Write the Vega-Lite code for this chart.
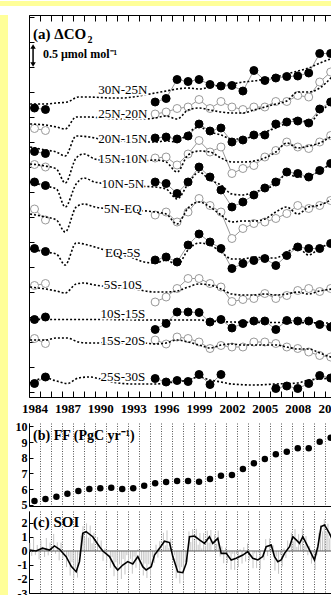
{
"$schema":"https://vega.github.io/schema/vega-lite/v6.json",
"background":"white",
"padding":0,
"spacing":0,
"config":{
 "view":{"stroke":null},
 "axis":{"title":null,"labelFont":"Liberation Serif","labelFontWeight":"bold","labelFontSize":12,"labelColor":"black","domainColor":"black","domainWidth":1,"tickColor":"black","tickWidth":1,"grid":false,"labelFlush":false,"labelOverlap":false,"labelBound":false}
},
"datasets":{
"lines":[
{"r":1,"t":1983.6,"v":5.76},{"r":1,"t":1985,"v":5.76},{"r":1,"t":1986,"v":5.78},{"r":1,"t":1987,"v":5.80},{"r":1,"t":1988,"v":5.90},{"r":1,"t":1989,"v":5.90},{"r":1,"t":1990,"v":5.89},{"r":1,"t":1991,"v":5.88},{"r":1,"t":1992,"v":5.88},{"r":1,"t":1993,"v":5.90},{"r":1,"t":1994,"v":5.94},{"r":1,"t":1995,"v":5.98},{"r":1,"t":1996,"v":6.02},{"r":1,"t":1997,"v":6.06},{"r":1,"t":1998,"v":6.08},{"r":1,"t":1999,"v":6.06},{"r":1,"t":2000,"v":6.10},{"r":1,"t":2001,"v":6.14},{"r":1,"t":2002,"v":6.16},{"r":1,"t":2003,"v":6.20},{"r":1,"t":2004,"v":6.22},{"r":1,"t":2005,"v":6.26},{"r":1,"t":2006,"v":6.30},{"r":1,"t":2007,"v":6.36},{"r":1,"t":2008,"v":6.42},{"r":1,"t":2009,"v":6.48},{"r":1,"t":2010,"v":6.58},{"r":1,"t":2011.1,"v":6.67},
{"r":2,"t":1983.6,"v":5.36},{"r":2,"t":1985,"v":5.34},{"r":2,"t":1986,"v":5.30},{"r":2,"t":1986.8,"v":5.26},{"r":2,"t":1987.8,"v":5.50},{"r":2,"t":1989,"v":5.50},{"r":2,"t":1990,"v":5.48},{"r":2,"t":1991,"v":5.46},{"r":2,"t":1992,"v":5.46},{"r":2,"t":1993,"v":5.46},{"r":2,"t":1994,"v":5.46},{"r":2,"t":1995,"v":5.48},{"r":2,"t":1996,"v":5.52},{"r":2,"t":1997,"v":5.46},{"r":2,"t":1998,"v":5.64},{"r":2,"t":1999,"v":5.68},{"r":2,"t":2000,"v":5.64},{"r":2,"t":2001,"v":5.60},{"r":2,"t":2002,"v":5.58},{"r":2,"t":2003,"v":5.58},{"r":2,"t":2004,"v":5.64},{"r":2,"t":2005,"v":5.70},{"r":2,"t":2006,"v":5.76},{"r":2,"t":2007,"v":5.82},{"r":2,"t":2008,"v":6.00},{"r":2,"t":2009,"v":6.00},{"r":2,"t":2010,"v":6.08},{"r":2,"t":2011.1,"v":6.30},
{"r":3,"t":1983.6,"v":4.90},{"r":3,"t":1985,"v":4.84},{"r":3,"t":1986,"v":4.80},{"r":3,"t":1986.8,"v":4.72},{"r":3,"t":1987.8,"v":5.12},{"r":3,"t":1989,"v":5.10},{"r":3,"t":1990,"v":5.06},{"r":3,"t":1991,"v":5.04},{"r":3,"t":1992,"v":5.02},{"r":3,"t":1993,"v":5.00},{"r":3,"t":1994,"v":5.00},{"r":3,"t":1995,"v":5.00},{"r":3,"t":1996,"v":5.02},{"r":3,"t":1997,"v":5.00},{"r":3,"t":1998,"v":5.18},{"r":3,"t":1999,"v":5.30},{"r":3,"t":2000,"v":5.20},{"r":3,"t":2001,"v":5.14},{"r":3,"t":2002,"v":5.06},{"r":3,"t":2003,"v":5.06},{"r":3,"t":2004,"v":5.12},{"r":3,"t":2005,"v":5.20},{"r":3,"t":2006,"v":5.28},{"r":3,"t":2007,"v":5.38},{"r":3,"t":2008,"v":5.48},{"r":3,"t":2009,"v":5.38},{"r":3,"t":2010,"v":5.60},{"r":3,"t":2011.1,"v":5.78},
{"r":4,"t":1983.6,"v":4.56},{"r":4,"t":1985,"v":4.52},{"r":4,"t":1986,"v":4.46},{"r":4,"t":1986.8,"v":4.18},{"r":4,"t":1987.8,"v":4.68},{"r":4,"t":1988.5,"v":4.76},{"r":4,"t":1989.5,"v":4.66},{"r":4,"t":1991,"v":4.62},{"r":4,"t":1993,"v":4.60},{"r":4,"t":1995,"v":4.64},{"r":4,"t":1996,"v":4.60},{"r":4,"t":1997,"v":4.40},{"r":4,"t":1998,"v":4.74},{"r":4,"t":1999,"v":4.82},{"r":4,"t":2000,"v":4.80},{"r":4,"t":2001,"v":4.68},{"r":4,"t":2002,"v":4.60},{"r":4,"t":2003,"v":4.60},{"r":4,"t":2004,"v":4.62},{"r":4,"t":2005,"v":4.68},{"r":4,"t":2006,"v":4.80},{"r":4,"t":2007,"v":4.98},{"r":4,"t":2008,"v":4.88},{"r":4,"t":2009,"v":4.92},{"r":4,"t":2010,"v":4.98},{"r":4,"t":2011.1,"v":5.12},
{"r":5,"t":1983.6,"v":4.20},{"r":5,"t":1985,"v":4.12},{"r":5,"t":1986,"v":4.06},{"r":5,"t":1986.8,"v":3.70},{"r":5,"t":1987.8,"v":4.16},{"r":5,"t":1988.5,"v":4.28},{"r":5,"t":1989.5,"v":4.20},{"r":5,"t":1991,"v":4.16},{"r":5,"t":1993,"v":4.12},{"r":5,"t":1995,"v":4.10},{"r":5,"t":1996,"v":4.06},{"r":5,"t":1997,"v":3.86},{"r":5,"t":1998,"v":4.16},{"r":5,"t":1999,"v":4.40},{"r":5,"t":2000,"v":4.24},{"r":5,"t":2001,"v":4.14},{"r":5,"t":2002,"v":3.96},{"r":5,"t":2003,"v":3.94},{"r":5,"t":2004,"v":4.00},{"r":5,"t":2005,"v":4.06},{"r":5,"t":2006,"v":4.16},{"r":5,"t":2007,"v":4.36},{"r":5,"t":2008,"v":4.30},{"r":5,"t":2009,"v":4.32},{"r":5,"t":2010,"v":4.42},{"r":5,"t":2011.1,"v":4.58},
{"r":6,"t":1983.6,"v":3.56},{"r":6,"t":1985,"v":3.50},{"r":6,"t":1986,"v":3.44},{"r":6,"t":1986.8,"v":3.20},{"r":6,"t":1987.8,"v":3.70},{"r":6,"t":1988.5,"v":3.76},{"r":6,"t":1989.5,"v":3.70},{"r":6,"t":1991,"v":3.66},{"r":6,"t":1993,"v":3.64},{"r":6,"t":1995,"v":3.60},{"r":6,"t":1996,"v":3.56},{"r":6,"t":1997,"v":3.36},{"r":6,"t":1998,"v":3.68},{"r":6,"t":1999,"v":3.80},{"r":6,"t":2000,"v":3.70},{"r":6,"t":2001,"v":3.54},{"r":6,"t":2002,"v":3.40},{"r":6,"t":2003,"v":3.42},{"r":6,"t":2004,"v":3.42},{"r":6,"t":2005,"v":3.46},{"r":6,"t":2006,"v":3.60},{"r":6,"t":2007,"v":3.70},{"r":6,"t":2008,"v":3.56},{"r":6,"t":2009,"v":3.70},{"r":6,"t":2010,"v":3.74},{"r":6,"t":2011.1,"v":3.85},
{"r":7,"t":1983.6,"v":2.86},{"r":7,"t":1985,"v":2.80},{"r":7,"t":1986,"v":2.76},{"r":7,"t":1986.8,"v":2.54},{"r":7,"t":1987.8,"v":2.98},{"r":7,"t":1988.5,"v":2.96},{"r":7,"t":1989.5,"v":2.90},{"r":7,"t":1991,"v":2.80},{"r":7,"t":1993,"v":2.68},{"r":7,"t":1994,"v":2.60},{"r":7,"t":1995,"v":2.58},{"r":7,"t":1996,"v":2.64},{"r":7,"t":1997,"v":2.54},{"r":7,"t":1998,"v":2.84},{"r":7,"t":1999,"v":2.98},{"r":7,"t":2000,"v":2.94},{"r":7,"t":2001,"v":2.80},{"r":7,"t":2002,"v":2.66},{"r":7,"t":2003,"v":2.66},{"r":7,"t":2004,"v":2.70},{"r":7,"t":2005,"v":2.68},{"r":7,"t":2006,"v":2.68},{"r":7,"t":2007,"v":2.80},{"r":7,"t":2008,"v":2.88},{"r":7,"t":2009,"v":2.74},{"r":7,"t":2010,"v":2.88},{"r":7,"t":2011.1,"v":2.97},
{"r":8,"t":1983.6,"v":2.10},{"r":8,"t":1985,"v":2.06},{"r":8,"t":1986,"v":2.02},{"r":8,"t":1986.8,"v":1.98},{"r":8,"t":1987.8,"v":2.16},{"r":8,"t":1988.5,"v":2.18},{"r":8,"t":1989.5,"v":2.14},{"r":8,"t":1991,"v":2.10},{"r":8,"t":1993,"v":2.06},{"r":8,"t":1995,"v":2.00},{"r":8,"t":1996,"v":2.00},{"r":8,"t":1997,"v":2.02},{"r":8,"t":1998,"v":2.10},{"r":8,"t":1999,"v":2.16},{"r":8,"t":2000,"v":2.14},{"r":8,"t":2001,"v":2.06},{"r":8,"t":2002,"v":1.96},{"r":8,"t":2003,"v":1.94},{"r":8,"t":2004,"v":1.94},{"r":8,"t":2005,"v":1.96},{"r":8,"t":2006,"v":1.94},{"r":8,"t":2007,"v":1.96},{"r":8,"t":2008,"v":2.00},{"r":8,"t":2009,"v":1.96},{"r":8,"t":2010,"v":2.02},{"r":8,"t":2011.1,"v":2.06},
{"r":9,"t":1983.6,"v":1.45},{"r":9,"t":1990,"v":1.45},{"r":9,"t":1995,"v":1.44},{"r":9,"t":1999,"v":1.44},{"r":9,"t":2000,"v":1.42},{"r":9,"t":2002,"v":1.40},{"r":9,"t":2006,"v":1.39},{"r":9,"t":2011.1,"v":1.38},
{"r":10,"t":1983.6,"v":1.04},{"r":10,"t":1985,"v":1.04},{"r":10,"t":1986,"v":1.08},{"r":10,"t":1987,"v":1.08},{"r":10,"t":1988,"v":1.00},{"r":10,"t":1989,"v":0.98},{"r":10,"t":1990,"v":0.98},{"r":10,"t":1992,"v":0.98},{"r":10,"t":1994,"v":0.98},{"r":10,"t":1995,"v":0.96},{"r":10,"t":1996,"v":0.98},{"r":10,"t":1997,"v":1.04},{"r":10,"t":1998,"v":1.00},{"r":10,"t":1999,"v":0.94},{"r":10,"t":2000,"v":0.88},{"r":10,"t":2001,"v":0.94},{"r":10,"t":2002,"v":0.96},{"r":10,"t":2003,"v":0.94},{"r":10,"t":2004,"v":0.94},{"r":10,"t":2005,"v":0.94},{"r":10,"t":2006,"v":0.94},{"r":10,"t":2007,"v":0.90},{"r":10,"t":2008,"v":0.86},{"r":10,"t":2009,"v":0.86},{"r":10,"t":2010,"v":0.78},{"r":10,"t":2011.1,"v":0.69},
{"r":11,"t":1983.6,"v":0.18},{"r":11,"t":1985,"v":0.28},{"r":11,"t":1986,"v":0.22},{"r":11,"t":1987,"v":0.17},{"r":11,"t":1988,"v":0.28},{"r":11,"t":1989,"v":0.30},{"r":11,"t":1990,"v":0.26},{"r":11,"t":1991,"v":0.20},{"r":11,"t":1993,"v":0.16},{"r":11,"t":1995,"v":0.16},{"r":11,"t":1996,"v":0.18},{"r":11,"t":1998,"v":0.24},{"r":11,"t":1999,"v":0.30},{"r":11,"t":2000,"v":0.24},{"r":11,"t":2001,"v":0.20},{"r":11,"t":2002,"v":0.16},{"r":11,"t":2004,"v":0.14},{"r":11,"t":2006,"v":0.16},{"r":11,"t":2008,"v":0.18},{"r":11,"t":2009,"v":0.24},{"r":11,"t":2010,"v":0.26},{"r":11,"t":2011.1,"v":0.28}
],
"obs":[
{"r":1,"g":1,"t":1984,"v":5.68},{"r":1,"g":1,"t":1985,"v":5.65},{"r":1,"g":2,"t":1995,"v":5.80},{"r":1,"g":2,"t":1996,"v":5.87},{"r":1,"g":2,"t":1997,"v":6.25},{"r":1,"g":2,"t":1998,"v":6.21},{"r":1,"g":2,"t":1999,"v":6.25},{"r":1,"g":2,"t":2000,"v":6.15},{"r":1,"g":2,"t":2001,"v":6.12},{"r":1,"g":2,"t":2002,"v":6.13},{"r":1,"g":2,"t":2003,"v":6.02},{"r":1,"g":2,"t":2004,"v":6.43},{"r":1,"g":2,"t":2005,"v":6.23},{"r":1,"g":2,"t":2006,"v":6.28},{"r":1,"g":2,"t":2007,"v":6.31},{"r":1,"g":2,"t":2008,"v":6.32},{"r":1,"g":2,"t":2009,"v":6.38},{"r":1,"g":2,"t":2010,"v":6.77},{"r":1,"g":2,"t":2011,"v":6.77},
{"r":2,"g":1,"t":1984,"v":5.27},{"r":2,"g":1,"t":1985,"v":5.23},{"r":2,"g":2,"t":1995,"v":5.56},{"r":2,"g":2,"t":1996,"v":5.60},{"r":2,"g":2,"t":1997,"v":5.67},{"r":2,"g":2,"t":1998,"v":5.70},{"r":2,"g":2,"t":1999,"v":5.85},{"r":2,"g":2,"t":2000,"v":5.67},{"r":2,"g":2,"t":2001,"v":5.81},{"r":2,"g":2,"t":2002,"v":5.70},{"r":2,"g":2,"t":2003,"v":5.65},{"r":2,"g":2,"t":2004,"v":5.70},{"r":2,"g":2,"t":2005,"v":5.70},{"r":2,"g":2,"t":2006,"v":5.81},{"r":2,"g":2,"t":2007,"v":5.81},{"r":2,"g":2,"t":2008,"v":5.93},{"r":2,"g":2,"t":2009,"v":5.90},{"r":2,"g":2,"t":2010,"v":6.20},{"r":2,"g":2,"t":2011,"v":6.40},
{"r":3,"g":1,"t":1984,"v":4.81},{"r":3,"g":1,"t":1985,"v":4.77},{"r":3,"g":2,"t":1995,"v":5.08},{"r":3,"g":2,"t":1996,"v":5.10},{"r":3,"g":2,"t":1997,"v":5.06},{"r":3,"g":2,"t":1998,"v":5.12},{"r":3,"g":2,"t":1999,"v":5.36},{"r":3,"g":2,"t":2000,"v":5.22},{"r":3,"g":2,"t":2001,"v":5.28},{"r":3,"g":2,"t":2002,"v":5.00},{"r":3,"g":2,"t":2003,"v":5.04},{"r":3,"g":2,"t":2004,"v":5.14},{"r":3,"g":2,"t":2005,"v":5.14},{"r":3,"g":2,"t":2006,"v":5.36},{"r":3,"g":2,"t":2007,"v":5.40},{"r":3,"g":2,"t":2008,"v":5.42},{"r":3,"g":2,"t":2009,"v":5.38},{"r":3,"g":2,"t":2010,"v":5.66},{"r":3,"g":2,"t":2011,"v":5.80},
{"r":4,"g":1,"t":1984,"v":4.55},{"r":4,"g":1,"t":1985,"v":4.50},{"r":4,"g":2,"t":1995,"v":4.68},{"r":4,"g":2,"t":1996,"v":4.70},{"r":4,"g":2,"t":1997,"v":4.54},{"r":4,"g":2,"t":1998,"v":4.76},{"r":4,"g":2,"t":1999,"v":5.03},{"r":4,"g":2,"t":2000,"v":4.80},{"r":4,"g":2,"t":2001,"v":4.90},{"r":4,"g":2,"t":2002,"v":4.37},{"r":4,"g":2,"t":2003,"v":4.47},{"r":4,"g":2,"t":2004,"v":4.53},{"r":4,"g":2,"t":2005,"v":4.70},{"r":4,"g":2,"t":2006,"v":4.83},{"r":4,"g":2,"t":2007,"v":5.00},{"r":4,"g":2,"t":2008,"v":4.90},{"r":4,"g":2,"t":2009,"v":4.87},{"r":4,"g":2,"t":2010,"v":5.00},{"r":4,"g":2,"t":2011,"v":5.13},
{"r":5,"g":1,"t":1984,"v":4.20},{"r":5,"g":1,"t":1985,"v":4.13},{"r":5,"g":2,"t":1995,"v":4.20},{"r":5,"g":2,"t":1996,"v":4.17},{"r":5,"g":2,"t":1997,"v":3.97},{"r":5,"g":2,"t":1998,"v":4.20},{"r":5,"g":2,"t":1999,"v":4.50},{"r":5,"g":2,"t":2000,"v":4.30},{"r":5,"g":2,"t":2001,"v":4.04},{"r":5,"g":2,"t":2002,"v":3.70},{"r":5,"g":2,"t":2003,"v":3.80},{"r":5,"g":2,"t":2004,"v":3.94},{"r":5,"g":2,"t":2005,"v":4.08},{"r":5,"g":2,"t":2006,"v":4.20},{"r":5,"g":2,"t":2007,"v":4.40},{"r":5,"g":2,"t":2008,"v":4.37},{"r":5,"g":2,"t":2009,"v":4.30},{"r":5,"g":2,"t":2010,"v":4.43},{"r":5,"g":2,"t":2011,"v":4.57},
{"r":6,"g":1,"t":1984,"v":3.66},{"r":6,"g":1,"t":1985,"v":3.44},{"r":6,"g":2,"t":1995,"v":3.54},{"r":6,"g":2,"t":1996,"v":3.60},{"r":6,"g":2,"t":1997,"v":3.40},{"r":6,"g":2,"t":1998,"v":3.60},{"r":6,"g":2,"t":1999,"v":3.87},{"r":6,"g":2,"t":2000,"v":3.73},{"r":6,"g":2,"t":2001,"v":3.60},{"r":6,"g":2,"t":2002,"v":3.07},{"r":6,"g":2,"t":2003,"v":3.27},{"r":6,"g":2,"t":2004,"v":3.37},{"r":6,"g":2,"t":2005,"v":3.40},{"r":6,"g":2,"t":2006,"v":3.47},{"r":6,"g":2,"t":2007,"v":3.57},{"r":6,"g":2,"t":2008,"v":3.73},{"r":6,"g":2,"t":2009,"v":3.67},{"r":6,"g":2,"t":2010,"v":3.73},{"r":6,"g":2,"t":2011,"v":3.83},
{"r":7,"g":1,"t":1984,"v":2.87},{"r":7,"g":1,"t":1985,"v":2.81},{"r":7,"g":2,"t":1995,"v":2.64},{"r":7,"g":2,"t":1996,"v":2.70},{"r":7,"g":2,"t":1997,"v":2.60},{"r":7,"g":2,"t":1998,"v":2.94},{"r":7,"g":2,"t":1999,"v":3.16},{"r":7,"g":2,"t":2000,"v":3.00},{"r":7,"g":2,"t":2001,"v":2.87},{"r":7,"g":2,"t":2002,"v":2.47},{"r":7,"g":2,"t":2003,"v":2.57},{"r":7,"g":2,"t":2004,"v":2.63},{"r":7,"g":2,"t":2005,"v":2.67},{"r":7,"g":2,"t":2006,"v":2.53},{"r":7,"g":2,"t":2007,"v":2.73},{"r":7,"g":2,"t":2008,"v":2.90},{"r":7,"g":2,"t":2009,"v":2.87},{"r":7,"g":2,"t":2010,"v":2.87},{"r":7,"g":2,"t":2011,"v":2.97},
{"r":8,"g":1,"t":1984,"v":2.13},{"r":8,"g":1,"t":1985,"v":2.17},{"r":8,"g":2,"t":1995,"v":1.80},{"r":8,"g":2,"t":1996,"v":1.90},{"r":8,"g":2,"t":1997,"v":2.07},{"r":8,"g":2,"t":1998,"v":2.27},{"r":8,"g":2,"t":1999,"v":2.27},{"r":8,"g":2,"t":2000,"v":2.17},{"r":8,"g":2,"t":2001,"v":2.10},{"r":8,"g":2,"t":2002,"v":1.81},{"r":8,"g":2,"t":2003,"v":1.85},{"r":8,"g":2,"t":2004,"v":1.87},{"r":8,"g":2,"t":2005,"v":1.97},{"r":8,"g":2,"t":2006,"v":1.87},{"r":8,"g":2,"t":2007,"v":1.93},{"r":8,"g":2,"t":2008,"v":2.03},{"r":8,"g":2,"t":2009,"v":2.07},{"r":8,"g":2,"t":2010,"v":2.01},{"r":8,"g":2,"t":2011,"v":2.07},
{"r":9,"g":1,"t":1984,"v":1.45},{"r":9,"g":1,"t":1985,"v":1.50},{"r":9,"g":2,"t":1995,"v":1.25},{"r":9,"g":2,"t":1996,"v":1.37},{"r":9,"g":2,"t":1997,"v":1.60},{"r":9,"g":2,"t":1998,"v":1.60},{"r":9,"g":2,"t":1999,"v":1.59},{"r":9,"g":2,"t":2000,"v":1.40},{"r":9,"g":2,"t":2001,"v":1.45},{"r":9,"g":2,"t":2002,"v":1.28},{"r":9,"g":2,"t":2003,"v":1.37},{"r":9,"g":2,"t":2004,"v":1.42},{"r":9,"g":2,"t":2005,"v":1.42},{"r":9,"g":2,"t":2006,"v":1.25},{"r":9,"g":2,"t":2007,"v":1.43},{"r":9,"g":2,"t":2008,"v":1.42},{"r":9,"g":2,"t":2009,"v":1.42},{"r":9,"g":2,"t":2010,"v":1.35},{"r":9,"g":2,"t":2011,"v":1.30},
{"r":10,"g":1,"t":1984,"v":1.07},{"r":10,"g":1,"t":1985,"v":0.97},{"r":10,"g":2,"t":1995,"v":1.04},{"r":10,"g":2,"t":1996,"v":0.96},{"r":10,"g":2,"t":1997,"v":1.10},{"r":10,"g":2,"t":1998,"v":1.07},{"r":10,"g":2,"t":1999,"v":1.00},{"r":10,"g":2,"t":2000,"v":0.87},{"r":10,"g":2,"t":2001,"v":0.93},{"r":10,"g":2,"t":2002,"v":0.90},{"r":10,"g":2,"t":2003,"v":0.90},{"r":10,"g":2,"t":2004,"v":1.00},{"r":10,"g":2,"t":2005,"v":1.00},{"r":10,"g":2,"t":2006,"v":0.97},{"r":10,"g":2,"t":2007,"v":0.90},{"r":10,"g":2,"t":2008,"v":0.87},{"r":10,"g":2,"t":2009,"v":0.80},{"r":10,"g":2,"t":2010,"v":0.73},{"r":10,"g":2,"t":2011,"v":0.70},
{"r":11,"g":1,"t":1984,"v":0.17},{"r":11,"g":1,"t":1985,"v":0.30},{"r":11,"g":2,"t":1995,"v":0.27},{"r":11,"g":2,"t":1996,"v":0.20},{"r":11,"g":2,"t":1997,"v":0.23},{"r":11,"g":2,"t":1998,"v":0.21},{"r":11,"g":2,"t":1999,"v":0.35},{"r":11,"g":2,"t":2000,"v":0.15},{"r":11,"g":2,"t":2001,"v":0.35},{"r":11,"g":3,"t":2006,"v":0.07},{"r":11,"g":3,"t":2007,"v":0.12},{"r":11,"g":3,"t":2008,"v":0.07},{"r":11,"g":3,"t":2009,"v":0.17},{"r":11,"g":3,"t":2010,"v":0.33},{"r":11,"g":3,"t":2011,"v":0.28}
],
"labs":[
{"name":"30N-25N","t":1992.05,"v":6.04},{"name":"25N-20N","t":1992.05,"v":5.56},{"name":"20N-15N","t":1992.05,"v":5.06},{"name":"15N-10N","t":1992.05,"v":4.66},{"name":"10N-5N","t":1992.05,"v":4.16},{"name":"5N-EQ","t":1992.05,"v":3.66},{"name":"EQ-5S","t":1992.05,"v":2.78},{"name":"5S-10S","t":1992.05,"v":2.14},{"name":"10S-15S","t":1992.05,"v":1.57},{"name":"15S-20S","t":1992.05,"v":1.03},{"name":"25S-30S","t":1992.05,"v":0.30}
],
"ff":[
{"t":1984,"ff":5.24},{"t":1985,"ff":5.36},{"t":1986,"ff":5.51},{"t":1987,"ff":5.70},{"t":1988,"ff":5.87},{"t":1989,"ff":6.00},{"t":1990,"ff":6.05},{"t":1991,"ff":6.08},{"t":1992,"ff":6.00},{"t":1993,"ff":6.05},{"t":1994,"ff":6.21},{"t":1995,"ff":6.37},{"t":1996,"ff":6.45},{"t":1997,"ff":6.51},{"t":1998,"ff":6.51},{"t":1999,"ff":6.47},{"t":2000,"ff":6.64},{"t":2001,"ff":6.85},{"t":2002,"ff":6.90},{"t":2003,"ff":7.28},{"t":2004,"ff":7.64},{"t":2005,"ff":7.92},{"t":2006,"ff":8.22},{"t":2007,"ff":8.38},{"t":2008,"ff":8.60},{"t":2009,"ff":8.60},{"t":2010,"ff":9.02},{"t":2011,"ff":9.28}
],
"soi":[
{"t":1983.58,"s":0.58},{"t":1983.75,"s":-0.35},{"t":1983.92,"s":0.93},
{"t":1984.08,"s":-0.29},{"t":1984.25,"s":0.43},{"t":1984.42,"s":-0.6},{"t":1984.58,"s":0.76},{"t":1984.75,"s":0.3},{"t":1984.92,"s":-0.43},
{"t":1985.08,"s":0.93},{"t":1985.25,"s":-0.31},{"t":1985.42,"s":0.6},{"t":1985.58,"s":-0.1},{"t":1985.75,"s":1.22},{"t":1985.92,"s":-0.19},
{"t":1986.08,"s":0.62},{"t":1986.25,"s":-0.67},{"t":1986.42,"s":0.6},{"t":1986.58,"s":-0.55},{"t":1986.75,"s":-0.1},{"t":1986.92,"s":-1.15},
{"t":1987.08,"s":-0.4},{"t":1987.25,"s":-1.75},{"t":1987.42,"s":-0.8},{"t":1987.58,"s":-1.95},{"t":1987.75,"s":-1.25},{"t":1987.92,"s":-1.9},
{"t":1988.08,"s":-0.3},{"t":1988.25,"s":1.1},{"t":1988.42,"s":1.77},{"t":1988.58,"s":0.93},{"t":1988.75,"s":1.97},{"t":1988.92,"s":0.95},
{"t":1989.08,"s":1.82},{"t":1989.25,"s":0.55},{"t":1989.42,"s":1.3},{"t":1989.58,"s":0.1},{"t":1989.75,"s":1.0},{"t":1989.92,"s":-0.08},
{"t":1990.08,"s":0.75},{"t":1990.25,"s":-0.7},{"t":1990.42,"s":0.18},{"t":1990.58,"s":-0.83},{"t":1990.75,"s":0.05},{"t":1990.92,"s":-1.2},
{"t":1991.08,"s":-0.45},{"t":1991.25,"s":-1.8},{"t":1991.42,"s":-0.8},{"t":1991.58,"s":-2.05},{"t":1991.75,"s":-0.95},{"t":1991.92,"s":-2.0},
{"t":1992.08,"s":-0.58},{"t":1992.25,"s":-1.68},{"t":1992.42,"s":-0.3},{"t":1992.58,"s":-1.4},{"t":1992.75,"s":-0.56},{"t":1992.92,"s":-1.62},
{"t":1993.08,"s":-0.4},{"t":1993.25,"s":-1.2},{"t":1993.42,"s":0.1},{"t":1993.58,"s":-1.35},{"t":1993.75,"s":-0.65},{"t":1993.92,"s":-1.75},
{"t":1994.08,"s":-0.9},{"t":1994.25,"s":-1.93},{"t":1994.42,"s":-0.95},{"t":1994.58,"s":-1.75},{"t":1994.75,"s":-0.45},{"t":1994.92,"s":-0.85},
{"t":1995.08,"s":0.45},{"t":1995.25,"s":-0.47},{"t":1995.42,"s":0.7},{"t":1995.58,"s":0.0},{"t":1995.75,"s":1.3},{"t":1995.92,"s":0.4},
{"t":1996.08,"s":1.47},{"t":1996.25,"s":0.22},{"t":1996.42,"s":0.9},{"t":1996.58,"s":-0.6},{"t":1996.75,"s":-0.3},{"t":1996.92,"s":-1.95},
{"t":1997.08,"s":-1.18},{"t":1997.25,"s":-2.32},{"t":1997.42,"s":-1.15},{"t":1997.58,"s":-2.1},{"t":1997.75,"s":-0.8},{"t":1997.92,"s":-0.8},
{"t":1998.08,"s":1.4},{"t":1998.25,"s":0.64},{"t":1998.42,"s":1.56},{"t":1998.58,"s":0.77},{"t":1998.75,"s":1.58},{"t":1998.92,"s":0.45},
{"t":1999.08,"s":1.28},{"t":1999.25,"s":0.18},{"t":1999.42,"s":1.28},{"t":1999.58,"s":0.35},{"t":1999.75,"s":1.45},{"t":1999.92,"s":0.6},
{"t":2000.08,"s":1.5},{"t":2000.25,"s":0.05},{"t":2000.42,"s":1.18},{"t":2000.58,"s":0.52},{"t":2000.75,"s":1.45},{"t":2000.92,"s":-0.4},
{"t":2001.08,"s":0.33},{"t":2001.25,"s":-0.87},{"t":2001.42,"s":0.23},{"t":2001.58,"s":-0.87},{"t":2001.75,"s":-0.15},{"t":2001.92,"s":-1.33},
{"t":2002.08,"s":-0.2},{"t":2002.25,"s":-1.36},{"t":2002.42,"s":-0.21},{"t":2002.58,"s":-1.15},{"t":2002.75,"s":0.12},{"t":2002.92,"s":-0.9},
{"t":2003.08,"s":0.27},{"t":2003.25,"s":-0.75},{"t":2003.42,"s":0.54},{"t":2003.58,"s":-0.7},{"t":2003.75,"s":0.0},{"t":2003.92,"s":-1.23},
{"t":2004.08,"s":-0.17},{"t":2004.25,"s":-1.22},{"t":2004.42,"s":-0.1},{"t":2004.58,"s":-1.3},{"t":2004.75,"s":-0.02},{"t":2004.92,"s":-0.65},
{"t":2005.08,"s":0.85},{"t":2005.25,"s":-0.35},{"t":2005.42,"s":0.9},{"t":2005.58,"s":0.03},{"t":2005.75,"s":0.4},{"t":2005.92,"s":-1.4},
{"t":2006.08,"s":-0.4},{"t":2006.25,"s":-1.63},{"t":2006.42,"s":-0.27},{"t":2006.58,"s":-1.1},{"t":2006.75,"s":0.18},{"t":2006.92,"s":-0.5},
{"t":2007.08,"s":0.75},{"t":2007.25,"s":-0.09},{"t":2007.42,"s":1.3},{"t":2007.58,"s":0.7},{"t":2007.75,"s":1.57},{"t":2007.92,"s":0.3},
{"t":2008.08,"s":1.2},{"t":2008.25,"s":0.5},{"t":2008.42,"s":1.6},{"t":2008.58,"s":0.4},{"t":2008.75,"s":1.07},{"t":2008.92,"s":-0.3},
{"t":2009.08,"s":0.35},{"t":2009.25,"s":-0.9},{"t":2009.42,"s":-0.2},{"t":2009.58,"s":-1.35},{"t":2009.75,"s":-0.3},{"t":2009.92,"s":1.3},
{"t":2010.08,"s":1.85},{"t":2010.25,"s":1.4},{"t":2010.42,"s":2.26},{"t":2010.58,"s":1.4},{"t":2010.75,"s":1.95},{"t":2010.92,"s":0.9}
],
"soism":[
{"t":1983.55,"s":0.07},{"t":1984.15,"s":0.0},{"t":1984.73,"s":0.2},{"t":1985.37,"s":0.07},{"t":1985.82,"s":0.36},{"t":1986.28,"s":0.12},{"t":1986.89,"s":-0.4},{"t":1987.35,"s":-1.1},{"t":1987.8,"s":-1.48},{"t":1988.1,"s":-0.76},{"t":1988.4,"s":1.26},{"t":1988.71,"s":1.38},{"t":1989.31,"s":1.02},{"t":1989.93,"s":0.31},{"t":1990.23,"s":0.0},{"t":1990.84,"s":-0.4},{"t":1991.29,"s":-1.07},{"t":1991.59,"s":-1.36},{"t":1992.05,"s":-1.0},{"t":1992.5,"s":-0.76},{"t":1992.96,"s":-0.93},{"t":1993.42,"s":-0.4},{"t":1993.87,"s":-1.12},{"t":1994.18,"s":-1.36},{"t":1994.64,"s":-1.12},{"t":1994.94,"s":-0.29},{"t":1995.4,"s":0.19},{"t":1995.85,"s":0.7},{"t":1996.31,"s":0.6},{"t":1996.61,"s":-0.4},{"t":1997.06,"s":-1.48},{"t":1997.52,"s":-1.55},{"t":1997.83,"s":-0.88},{"t":1998.13,"s":1.02},{"t":1998.59,"s":1.07},{"t":1999.04,"s":0.79},{"t":1999.5,"s":0.55},{"t":1999.95,"s":1.02},{"t":2000.25,"s":0.55},{"t":2000.71,"s":0.9},{"t":2001.02,"s":-0.17},{"t":2001.48,"s":-0.17},{"t":2001.93,"s":-0.64},{"t":2002.39,"s":-0.52},{"t":2002.99,"s":-0.29},{"t":2003.44,"s":-0.05},{"t":2003.9,"s":-0.52},{"t":2004.36,"s":-0.64},{"t":2004.81,"s":-0.4},{"t":2005.12,"s":0.31},{"t":2005.58,"s":0.43},{"t":2005.88,"s":-0.4},{"t":2006.18,"s":-0.76},{"t":2006.49,"s":-0.64},{"t":2006.79,"s":-0.17},{"t":2007.25,"s":0.31},{"t":2007.55,"s":1.02},{"t":2007.86,"s":0.79},{"t":2008.16,"s":0.55},{"t":2008.46,"s":1.02},{"t":2008.77,"s":0.55},{"t":2009.22,"s":-0.17},{"t":2009.52,"s":-0.64},{"t":2009.83,"s":0.31},{"t":2010.13,"s":1.74},{"t":2010.44,"s":1.86},{"t":2010.89,"s":1.26},{"t":2011.1,"s":0.9}
]
},
"vconcat":[
{"width":331,"height":5,"view":{"fill":"#ffff99","stroke":null},"data":{"values":[{}]},"mark":{"type":"point","opacity":0}},
{"spacing":0,"hconcat":[
 {"width":8,"height":590,"view":{"fill":"#ffff99","stroke":null},"data":{"values":[{}]},"mark":{"type":"point","opacity":0}},
 {"spacing":0,"vconcat":[
  {"width":302,"height":382,
   "resolve":{"axis":{"x":"independent","y":"independent"}},
   "layer":[
    {"data":{"name":"obs"},"mark":{"type":"line","color":"#999999","strokeWidth":1},
     "encoding":{
      "x":{"field":"t","type":"quantitative","scale":{"domain":[1983.5,2011.03],"nice":false,"zero":false},
           "axis":{"orient":"top","values":[1984,1985,1986,1987,1988,1989,1990,1991,1992,1993,1994,1995,1996,1997,1998,1999,2000,2001,2002,2003,2004,2005,2006,2007,2008,2009,2010,2011],"labels":false,"tickSize":-6,"tickOffset":-5.485,"minExtent":8,"maxExtent":8}},
      "y":{"field":"v","type":"quantitative","scale":{"domain":[-0.1,7.54],"nice":false,"zero":false},
           "axis":{"orient":"left","values":[0,0.5,1,1.5,2,2.5,3,3.5,4,4.5,5,5.5,6,6.5,7,7.5],"labels":false,"tickSize":-5,"minExtent":21,"maxExtent":21}},
      "detail":[{"field":"r"},{"field":"g"}]}},
    {"data":{"name":"obs"},"mark":{"type":"point","shape":"circle","size":64,"strokeWidth":1,"opacity":1,"filled":true},
     "encoding":{
      "x":{"field":"t","type":"quantitative","scale":{"domain":[1983.5,2011.03],"nice":false,"zero":false},
           "axis":{"orient":"bottom","values":[1984,1985,1986,1987,1988,1989,1990,1991,1992,1993,1994,1995,1996,1997,1998,1999,2000,2001,2002,2003,2004,2005,2006,2007,2008,2009,2010,2011],"format":"d","labelExpr":"(datum.value - 1984) % 3 == 0 ? datum.label : ''","tickSize":-6,"tickOffset":-5.485,"labelOffset":5.485,"labelPadding":11,"labelFontSize":13,"minExtent":23,"maxExtent":23}},
      "y":{"field":"v","type":"quantitative","scale":{"domain":[-0.1,7.54],"nice":false,"zero":false},"axis":null},
      "fill":{"condition":{"test":"datum.r % 2 == 1","value":"black"},"value":"white"},
      "stroke":{"condition":{"test":"datum.r % 2 == 1","value":"black"},"value":"#999999"}}},
    {"data":{"name":"lines"},"mark":{"type":"line","color":"black","strokeWidth":1.6,"strokeDash":[2,2],"interpolate":"monotone","clip":true},
     "encoding":{
      "x":{"field":"t","type":"quantitative","scale":{"domain":[1983.5,2011.03],"nice":false,"zero":false},"axis":null},
      "y":{"field":"v","type":"quantitative","scale":{"domain":[-0.1,7.54],"nice":false,"zero":false},"axis":null},
      "detail":{"field":"r"}}},
    {"data":{"name":"labs"},"mark":{"type":"text","font":"Liberation Serif","fontSize":13,"fill":"white","stroke":"white","strokeWidth":3,"align":"center","baseline":"middle"},
     "encoding":{
      "x":{"field":"t","type":"quantitative","scale":{"domain":[1983.5,2011.03],"nice":false,"zero":false},"axis":null},
      "y":{"field":"v","type":"quantitative","scale":{"domain":[-0.1,7.54],"nice":false,"zero":false},"axis":null},
      "text":{"field":"name"}}},
    {"data":{"name":"labs"},"mark":{"type":"text","font":"Liberation Serif","fontSize":13,"fill":"black","align":"center","baseline":"middle"},
     "encoding":{
      "x":{"field":"t","type":"quantitative","scale":{"domain":[1983.5,2011.03],"nice":false,"zero":false},"axis":null},
      "y":{"field":"v","type":"quantitative","scale":{"domain":[-0.1,7.54],"nice":false,"zero":false},"axis":null},
      "text":{"field":"name"}}},
    {"data":{"values":[{"t":1983.87,"v":7.06,"txt":"(a) ΔCO"}]},"mark":{"type":"text","font":"Liberation Serif","fontWeight":"bold","fontSize":15,"fill":"black","align":"left","baseline":"alphabetic"},
     "encoding":{
      "x":{"field":"t","type":"quantitative","scale":{"domain":[1983.5,2011.03],"nice":false,"zero":false},"axis":null},
      "y":{"field":"v","type":"quantitative","scale":{"domain":[-0.1,7.54],"nice":false,"zero":false},"axis":null},
      "text":{"field":"txt"}}},
    {"data":{"values":[{"t":1988.83,"v":6.98,"txt":"2"}]},"mark":{"type":"text","font":"Liberation Serif","fontWeight":"bold","fontSize":10,"fill":"black","align":"left","baseline":"alphabetic"},
     "encoding":{
      "x":{"field":"t","type":"quantitative","scale":{"domain":[1983.5,2011.03],"nice":false,"zero":false},"axis":null},
      "y":{"field":"v","type":"quantitative","scale":{"domain":[-0.1,7.54],"nice":false,"zero":false},"axis":null},
      "text":{"field":"txt"}}},
    {"data":{"values":[{"t":1984.78,"v":6.68,"txt":"0.5 μmol mol⁻¹"}]},"mark":{"type":"text","font":"Liberation Serif","fontWeight":"bold","fontSize":12,"fill":"black","align":"left","baseline":"alphabetic"},
     "encoding":{
      "x":{"field":"t","type":"quantitative","scale":{"domain":[1983.5,2011.03],"nice":false,"zero":false},"axis":null},
      "y":{"field":"v","type":"quantitative","scale":{"domain":[-0.1,7.54],"nice":false,"zero":false},"axis":null},
      "text":{"field":"txt"}}},
    {"data":{"values":[{"t":1983.87,"v":6.9,"v2":6.56}]},"mark":{"type":"rule","color":"black","strokeWidth":1.5},
     "encoding":{
      "x":{"field":"t","type":"quantitative","scale":{"domain":[1983.5,2011.03],"nice":false,"zero":false},"axis":null},
      "y":{"field":"v","type":"quantitative","scale":{"domain":[-0.1,7.54],"nice":false,"zero":false},"axis":null},
      "y2":{"field":"v2"}}},
    {"data":{"values":[{"t":1983.87,"v":6.91}]},"mark":{"type":"point","shape":"triangle-up","size":30,"filled":true,"color":"black","opacity":1},
     "encoding":{
      "x":{"field":"t","type":"quantitative","scale":{"domain":[1983.5,2011.03],"nice":false,"zero":false},"axis":null},
      "y":{"field":"v","type":"quantitative","scale":{"domain":[-0.1,7.54],"nice":false,"zero":false},"axis":null}}},
    {"data":{"values":[{"t":1983.87,"v":6.55}]},"mark":{"type":"point","shape":"triangle-down","size":30,"filled":true,"color":"black","opacity":1},
     "encoding":{
      "x":{"field":"t","type":"quantitative","scale":{"domain":[1983.5,2011.03],"nice":false,"zero":false},"axis":null},
      "y":{"field":"v","type":"quantitative","scale":{"domain":[-0.1,7.54],"nice":false,"zero":false},"axis":null}}}
   ]},
  {"width":302,"height":83,
   "resolve":{"axis":{"x":"independent","y":"independent"}},
   "layer":[
    {"data":{"name":"ff"},"mark":{"type":"point","shape":"circle","filled":true,"color":"black","size":42,"opacity":1},
     "encoding":{
      "x":{"field":"t","type":"quantitative","scale":{"domain":[1983.5,2011.03],"nice":false,"zero":false},
           "axis":{"orient":"bottom","values":[1984,1985,1986,1987,1988,1989,1990,1991,1992,1993,1994,1995,1996,1997,1998,1999,2000,2001,2002,2003,2004,2005,2006,2007,2008,2009,2010,2011],"labels":false,"ticks":false,"grid":true,"gridDash":[1,1.5],"gridColor":"#555555","gridWidth":1,"tickOffset":-5.485,"minExtent":0,"maxExtent":0}},
      "y":{"field":"ff","type":"quantitative","scale":{"domain":[4.917,10.214],"nice":false,"zero":false},
           "axis":{"orient":"left","values":[5,6,7,8,9,10],"tickSize":-4,"labelPadding":6,"minExtent":21,"maxExtent":21}}}},
    {"data":{"values":[{"t":1983.87,"ff":9.38,"txt":"(b) FF (PgC yr⁻¹)"}]},"mark":{"type":"text","font":"Liberation Serif","fontWeight":"bold","fontSize":14,"fill":"black","align":"left","baseline":"middle"},
     "encoding":{
      "x":{"field":"t","type":"quantitative","scale":{"domain":[1983.5,2011.03],"nice":false,"zero":false},"axis":null},
      "y":{"field":"ff","type":"quantitative","scale":{"domain":[4.917,10.214],"nice":false,"zero":false},"axis":null},
      "text":{"field":"txt"}}}
   ]},
  {"width":302,"height":82,
   "resolve":{"axis":{"x":"independent","y":"independent"}},
   "layer":[
    {"data":{"name":"soi"},"mark":{"type":"rule","color":"#c4c4c4","strokeWidth":1},
     "encoding":{
      "x":{"field":"t","type":"quantitative","scale":{"domain":[1983.5,2011.03],"nice":false,"zero":false},
           "axis":{"orient":"bottom","values":[1984,1985,1986,1987,1988,1989,1990,1991,1992,1993,1994,1995,1996,1997,1998,1999,2000,2001,2002,2003,2004,2005,2006,2007,2008,2009,2010,2011],"format":"d","labelExpr":"(datum.value - 1984) % 3 == 0 ? datum.label : ''","ticks":false,"labelPadding":0,"tickOffset":-5.485,"labelOffset":5.485,"labelFontSize":13,"grid":true,"gridDash":[1,1.5],"gridColor":"#555555","gridWidth":1}},
      "y":{"field":"s","type":"quantitative","scale":{"domain":[-3,2.857],"nice":false,"zero":false},
           "axis":{"orient":"left","values":[-3,-2,-1,0,1,2],"labelExpr":"datum.value < 0 ? '-' + abs(datum.value) : '' + datum.value","tickSize":-4,"labelPadding":6,"minExtent":21,"maxExtent":21}},
      "y2":{"datum":0}}},
    {"data":{"values":[{"s":0}]},"mark":{"type":"rule","color":"#555555","strokeWidth":1},
     "encoding":{"y":{"field":"s","type":"quantitative","scale":{"domain":[-3,2.857],"nice":false,"zero":false},"axis":null}}},
    {"data":{"name":"soism"},"mark":{"type":"line","color":"black","strokeWidth":1.6,"clip":true},
     "encoding":{
      "x":{"field":"t","type":"quantitative","scale":{"domain":[1983.5,2011.03],"nice":false,"zero":false},"axis":null},
      "y":{"field":"s","type":"quantitative","scale":{"domain":[-3,2.857],"nice":false,"zero":false},"axis":null}}},
    {"data":{"values":[{"t":1983.87,"s":2.07,"txt":"(c) SOI"}]},"mark":{"type":"text","font":"Liberation Serif","fontWeight":"bold","fontSize":15,"fill":"black","align":"left","baseline":"middle"},
     "encoding":{
      "x":{"field":"t","type":"quantitative","scale":{"domain":[1983.5,2011.03],"nice":false,"zero":false},"axis":null},
      "y":{"field":"s","type":"quantitative","scale":{"domain":[-3,2.857],"nice":false,"zero":false},"axis":null},
      "text":{"field":"txt"}}}
   ]}
 ]}
]}
]
}
